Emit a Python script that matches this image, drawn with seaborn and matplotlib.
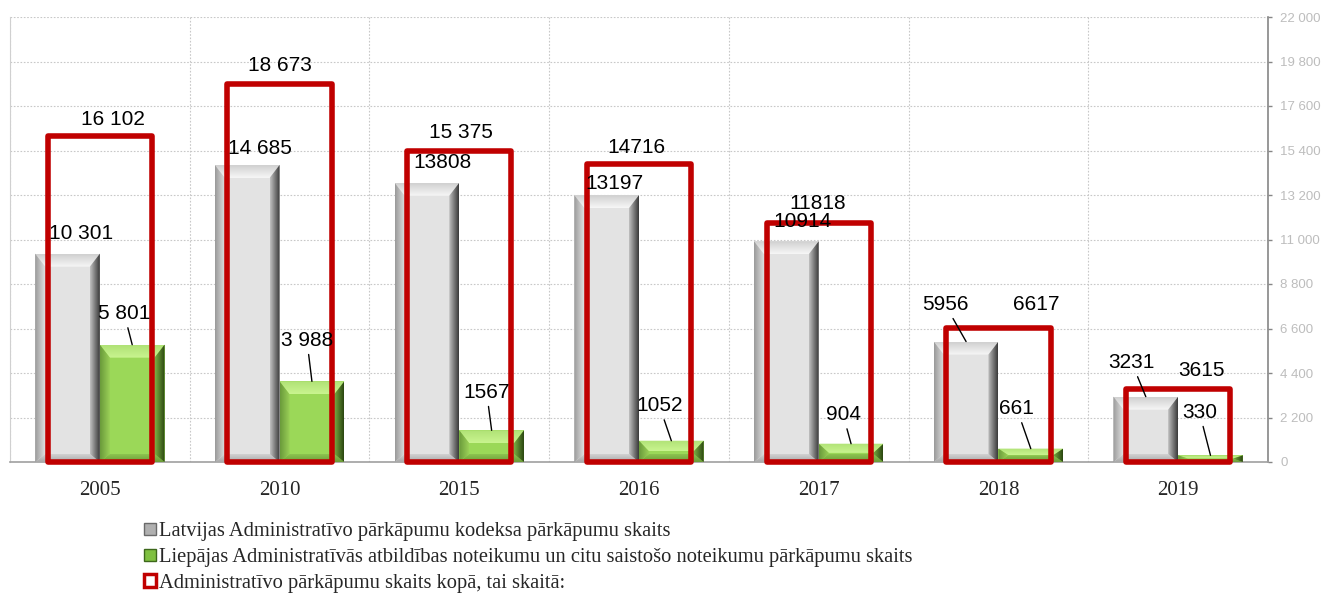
import numpy as np
import pandas as pd
import matplotlib
matplotlib.use("Agg")
import matplotlib.pyplot as plt
from matplotlib.patches import Polygon, Patch
from matplotlib.colors import to_rgb
import seaborn as sns

# data
years = ["2005", "2010", "2015", "2016", "2017", "2018", "2019"]
latvia_code = [10301, 14685, 13808, 13197, 10914, 5956, 3231]
liepaja_rules = [5801, 3988, 1567, 1052, 904, 661, 330]
totals = [16102, 18673, 15375, 14716, 11818, 6617, 3615]

latvia_labels = ["10 301", "14 685", "13808", "13197", "10914", "5956", "3231"]
liepaja_labels = ["5 801", "3 988", "1567", "1052", "904", "661", "330"]
total_labels = ["16 102", "18 673", "15 375", "14716", "11818", "6617", "3615"]

series_names = [
    "Latvijas Administratīvo pārkāpumu kodeksa pārkāpumu skaits",
    "Liepājas Administratīvās atbildības noteikumu un citu saistošo noteikumu pārkāpumu skaits",
]
total_name = "Administratīvo pārkāpumu skaits kopā, tai skaitā:"

# label offsets in pixels (layout only)
latvia_off = [(14, 20), (13, 16), (16, 20), (8, 12), (16, 20), (-21, 37), (-14, 34)]
latvia_leader = [False, False, False, False, False, True, True]
liepaja_off = [(-8, 31), (-5, 41), (-5, 38), (-12, 35), (-8, 29), (-14, 40), (-11, 43)]
total_off = [(13, 17), (0, 19), (2, 19), (-3, 17), (-1, 19), (38, 24), (23, 18)]

GRAY = "#e3e3e3"
GREEN = "#9bd858"
RED = "#c00000"

df = pd.DataFrame({
    "year": years * 2,
    "value": latvia_code + liepaja_rules,
    "series": [series_names[0]] * len(years) + [series_names[1]] * len(years),
})

sns.set_style("white")
plt.rcParams["font.family"] = ["Liberation Sans", "DejaVu Sans"]

fig = plt.figure(figsize=(13.24, 5.93), dpi=100)
ax = fig.add_axes([10 / 1324, 1 - 462 / 593, 1258 / 1324, 445 / 593])

sns.barplot(data=df, x="year", y="value", hue="series", hue_order=series_names,
            palette=[GRAY, GREEN], width=0.72, saturation=1, legend=False,
            edgecolor="none", ax=ax)
bars = list(ax.patches)

sns.barplot(x=years, y=totals, width=0.58, fill=False, color=RED,
            linewidth=4, ax=ax)
rects = [p for p in ax.patches if p not in bars]
for r in rects:
    r.set_zorder(6)
    r.set_clip_on(False)
    r.set_joinstyle("round")


def gradient_face(pts, c_out, c_in, horizontal, reverse):
    # fill a polygon with a linear gradient from outer edge to inner edge
    poly = Polygon(pts, closed=True, facecolor="none", edgecolor="none")
    ax.add_patch(poly)
    a = np.array(to_rgb(c_out))
    b = np.array(to_rgb(c_in))
    t = np.linspace(0, 1, 32)
    if reverse:
        t = t[::-1]
    grad = a[None, :] * (1 - t[:, None]) + b[None, :] * t[:, None]
    img = grad[None, :, :] if horizontal else grad[:, None, :]
    xs = [p[0] for p in pts]
    ys = [p[1] for p in pts]
    im = ax.imshow(img, extent=(min(xs), max(xs), min(ys), max(ys)),
                   origin="lower", aspect="auto", interpolation="bilinear", zorder=3)
    im.set_clip_path(poly)


# bevel shading on bars
px_x = 1 / 180
px_y = 22000 / 445
shades = {
    # (outer, inner) for top, bottom, left, right
    GRAY: [("#d0d0d0", "#f7f7f7"), ("#a8a8a8", "#d2d2d2"),
           ("#9a9a9a", "#dedede"), ("#3a3a3a", "#c0c0c0")],
    GREEN: [("#b0e276", "#c9f48f"), ("#6c9c38", "#8cc450"),
            ("#6a9a3a", "#9ad058"), ("#2a4610", "#7aae42")],
}
for i, p in enumerate(bars):
    col = GRAY if i < len(years) else GREEN
    top_c, bot_c, left_c, right_c = shades[col]
    x0 = p.get_x()
    x1 = x0 + p.get_width()
    h = p.get_height()
    bx = 10 * px_x
    by = min(13 * px_y, h / 2)
    bb = min(8 * px_y, h / 2)
    gradient_face([(x0, h), (x1, h), (x1 - bx, h - by), (x0 + bx, h - by)],
                  *top_c, horizontal=False, reverse=True)
    gradient_face([(x0, 0), (x1, 0), (x1 - bx, bb), (x0 + bx, bb)],
                  *bot_c, horizontal=False, reverse=False)
    gradient_face([(x0, h), (x0, 0), (x0 + bx, bb), (x0 + bx, h - by)],
                  *left_c, horizontal=True, reverse=False)
    gradient_face([(x1, h), (x1, 0), (x1 - bx, bb), (x1 - bx, h - by)],
                  *right_c, horizontal=True, reverse=True)

ax.set_xlim(-0.5, 6.5)
ax.set_ylim(0, 22000)


# data labels
def put_label(text, x, y, off, leader):
    kw = dict(textcoords="offset pixels", ha="center", va="center",
              fontsize=15, color="black", zorder=8)
    if leader:
        kw["arrowprops"] = dict(arrowstyle="-", color="black", lw=1,
                                shrinkA=1, shrinkB=0)
    ax.annotate(text, xy=(x, y), xytext=off, **kw)


for i in range(len(years)):
    g = bars[i]
    put_label(latvia_labels[i], g.get_x() + g.get_width() / 2, g.get_height(),
              latvia_off[i], latvia_leader[i])
    l = bars[i + len(years)]
    put_label(liepaja_labels[i], l.get_x() + l.get_width() / 2, l.get_height(),
              liepaja_off[i], True)
    r = rects[i]
    put_label(total_labels[i], r.get_x() + r.get_width() / 2, r.get_height(),
              total_off[i], False)

# axes styling
ax.yaxis.tick_right()
yt = np.arange(0, 22001, 2200)
ax.set_yticks(yt)
ax.set_yticklabels([f"{v:,.0f}".replace(",", " ") for v in yt],
                   fontsize=9.5, color="#bdbdbd")
ax.tick_params(axis="y", direction="out", length=3, width=1, color="#868686",
               pad=6, right=True)
ax.tick_params(axis="x", length=0, pad=14)
for t in ax.get_xticklabels():
    t.set_fontfamily(["Liberation Serif", "DejaVu Serif"])
    t.set_fontsize(15)
ax.set_xlabel("")
ax.set_ylabel("")

ax.set_xticks(np.arange(-0.5, 7), minor=True)
ax.tick_params(axis="x", which="minor", length=0)
ax.grid(axis="y", which="major", color="#c8c8c8", linestyle=(0, (1.5, 1.5)), lw=0.8)
ax.grid(axis="x", which="minor", color="#c8c8c8", linestyle=(0, (1.5, 1.5)), lw=0.8)
ax.set_axisbelow(True)

ax.spines["top"].set_visible(False)
ax.spines["left"].set_color("#d0d0d0")
ax.spines["right"].set_color("#868686")
ax.spines["bottom"].set_color("#a0a0a0")
ax.spines["left"].set_linewidth(0.8)
ax.spines["right"].set_linewidth(1.2)
ax.spines["bottom"].set_linewidth(1.2)

# legend
handles = [
    Patch(facecolor="#b0b0b0", edgecolor="#6a6a6a", linewidth=1),
    Patch(facecolor="#7fc040", edgecolor="#3d671b", linewidth=1),
    Patch(facecolor="white", edgecolor=RED, linewidth=2.5),
]
fig.legend(handles, series_names + [total_name], loc="upper left",
           bbox_to_anchor=(134 / 1324, 1 - 512 / 593), frameon=False,
           handlelength=0.55, handleheight=0.55, handletextpad=0.15,
           labelspacing=0.33, borderpad=0,
           prop={"family": ["Liberation Serif", "DejaVu Serif"], "size": 14.8})

fig.savefig("out.png", dpi=100)
